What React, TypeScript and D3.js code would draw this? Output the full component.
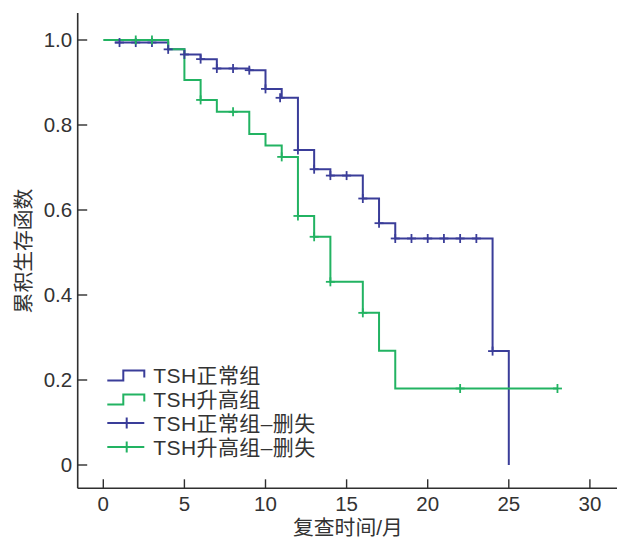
import React from "react";
import * as d3 from "d3";

// ---- data ----
const blueTimes = [0.7, 4, 5, 6, 7, 9, 10, 11, 12, 13, 14, 16, 17, 18, 24, 25];
const blueSurv = [0.994, 0.978, 0.966, 0.955, 0.933, 0.929, 0.885, 0.864, 0.741, 0.696, 0.681, 0.627, 0.569, 0.533, 0.268, 0];
const greenTimes = [0, 4, 5, 6, 7, 9, 10, 11, 12, 13, 14, 16, 17, 18, 28];
const greenSurv = [1, 0.978, 0.906, 0.859, 0.831, 0.779, 0.752, 0.725, 0.586, 0.537, 0.431, 0.358, 0.269, 0.18, 0.18];

const blueCensorT = [1, 2, 3, 4, 5, 6, 7, 8, 9, 10, 10.9, 12, 13, 14, 15, 16, 17, 18, 19, 20, 21, 22, 23, 24];
const blueCensorS = [0.994, 0.994, 0.994, 0.978, 0.966, 0.955, 0.933, 0.933, 0.929, 0.885, 0.864, 0.741, 0.696, 0.681, 0.681, 0.627, 0.569, 0.533, 0.533, 0.533, 0.533, 0.533, 0.533, 0.268];
const greenCensorT = [2, 3, 6, 8, 11, 12, 13, 14, 16, 22, 28];
const greenCensorS = [1, 1, 0.859, 0.831, 0.725, 0.586, 0.537, 0.431, 0.358, 0.18, 0.18];

const xTicks = [0, 5, 10, 15, 20, 25, 30];
const yTicks = [0, 0.2, 0.4, 0.6, 0.8, 1.0];
const yTickLabels = ["0", "0.2", "0.4", "0.6", "0.8", "1.0"];
const legendLabels = ["TSH正常组", "TSH升高组", "TSH正常组–删失", "TSH升高组–删失"];
const xTitle = "复查时间/月";
const yTitle = "累积生存函数";

// ---- style ----
const BLUE = "#3a3d99";
const GREEN = "#22b362";
const AXIS = "#2f2f2f";
const TEXT = "#333333";
const FONT = "'Liberation Sans', Arial, 'Noto Sans CJK SC', sans-serif";

export default function App() {
  const W = 617, H = 539;
  const x = d3.scaleLinear().domain([0, 30]).range([103.3, 589.9]);
  const y = d3.scaleLinear().domain([0, 1]).range([465, 40]);
  const axisX = 77.7, axisY = 488.3;

  const line = d3
    .line<[number, number]>()
    .x((d) => x(d[0]))
    .y((d) => y(d[1]))
    .curve(d3.curveStepAfter);

  const bluePts = blueTimes.map((t, i) => [t, blueSurv[i]] as [number, number]);
  const greenPts = greenTimes.map((t, i) => [t, greenSurv[i]] as [number, number]);

  const cross = (cx: number, cy: number, color: string, key: string) => (
    <g key={key} stroke={color} strokeWidth={1.8}>
      <line x1={cx - 4.5} x2={cx + 4.5} y1={cy} y2={cy} />
      <line x1={cx} x2={cx} y1={cy - 4.5} y2={cy + 4.5} />
    </g>
  );

  const legendX = 107.3;
  const legendRows = [375, 399, 423, 447];

  return (
    <svg
      width={W}
      height={H}
      style={{ position: "absolute", left: 0, top: 0, background: "#fff" }}
      fontFamily={FONT}
    >
      <rect x={0} y={0} width={W} height={H} fill="#fff" />
      {/* axes */}
      <line x1={axisX} x2={axisX} y1={13} y2={axisY} stroke={AXIS} strokeWidth={1.6} />
      <line x1={axisX} x2={W} y1={axisY} y2={axisY} stroke={AXIS} strokeWidth={1.6} />
      {yTicks.map((v, i) => (
        <g key={"yt" + i}>
          <line x1={axisX} x2={axisX + 9.5} y1={y(v)} y2={y(v)} stroke={AXIS} strokeWidth={1.4} />
          <text
            x={axisX - 5.5}
            y={y(v) + 7.2}
            textAnchor="end"
            fontSize={20.5}
            fill={TEXT}
          >
            {yTickLabels[i]}
          </text>
        </g>
      ))}
      {xTicks.map((v, i) => (
        <g key={"xt" + i}>
          <line x1={x(v)} x2={x(v)} y1={axisY} y2={axisY - 9} stroke={AXIS} strokeWidth={1.4} />
          <text x={x(v)} y={511} textAnchor="middle" fontSize={20.5} fill={TEXT}>
            {String(v)}
          </text>
        </g>
      ))}
      <text x={x(15.08)} y={535} textAnchor="middle" fontSize={20.8} fill={TEXT}>
        {xTitle}
      </text>
      <text
        transform="translate(31,251) rotate(-90)"
        textAnchor="middle"
        fontSize={20.8}
        fill={TEXT}
      >
        {yTitle}
      </text>

      {/* curves */}
      <path d={line(bluePts) || ""} fill="none" stroke={BLUE} strokeWidth={2} />
      <path d={line(greenPts) || ""} fill="none" stroke={GREEN} strokeWidth={2} />
      {blueCensorT.map((t, i) => cross(x(t), y(blueCensorS[i]), BLUE, "bc" + i))}
      {greenCensorT.map((t, i) => cross(x(t), y(greenCensorS[i]), GREEN, "gc" + i))}

      {/* legend */}
      {legendLabels.map((lab, i) => {
        const cy = legendRows[i];
        const color = i % 2 === 0 ? BLUE : GREEN;
        return (
          <g key={"lg" + i}>
            {i < 2 ? (
              <path
                d={`M${legendX},${cy + 5.5}H${legendX + 16}V${cy - 4.5}H${legendX + 37}V${cy + 2.5}`}
                fill="none"
                stroke={color}
                strokeWidth={2}
              />
            ) : (
              <g stroke={color} strokeWidth={2}>
                <line x1={legendX} x2={legendX + 37} y1={cy} y2={cy} />
                <line x1={legendX + 19.4} x2={legendX + 19.4} y1={cy - 5.5} y2={cy + 5.5} />
              </g>
            )}
            <text x={153.3} y={cy + 8} fontSize={21} fill={TEXT} letterSpacing={0.4}>
              {lab}
            </text>
          </g>
        );
      })}
    </svg>
  );
}
